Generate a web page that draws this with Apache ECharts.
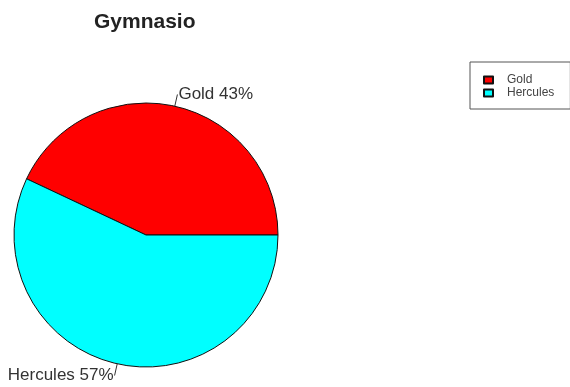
<!DOCTYPE html>
<html>
<head>
<meta charset="utf-8">
<script src="https://cdn.jsdelivr.net/npm/echarts@6/dist/echarts.min.js"></script>
<style>
  html, body { margin: 0; padding: 0; background: #fff; }
  #chart { width: 570px; height: 387px; }
</style>
</head>
<body>
<div id="chart"></div>
<script>
// Gym membership split
const chartTitle = 'Gymnasio';
const categories = ['Gold', 'Hercules'];
const shares = [43, 57];           // percent
const sliceColors = ['#ff0000', '#00ffff'];

const pieData = categories.map((name, i) => ({
  name: name,
  value: shares[i],
  itemStyle: { color: sliceColors[i] }
}));

const chart = echarts.init(document.getElementById('chart'), null, { renderer: 'canvas' });
chart.setOption({
  backgroundColor: '#ffffff',
  animation: false,
  title: {
    text: chartTitle,
    left: 94,
    top: 12,
    padding: 0,
    textStyle: {
      fontFamily: 'Liberation Sans, Arial, sans-serif',
      fontWeight: 'bold',
      fontSize: 21,
      color: '#222'
    }
  },
  legend: {
    orient: 'vertical',
    left: 470,
    top: 62,
    padding: [12, 16, 10, 13],
    borderColor: '#555',
    borderWidth: 1,
    itemWidth: 9,
    itemHeight: 7,
    itemGap: 1,
    icon: 'rect',
    data: categories,
    textStyle: {
      fontFamily: 'Liberation Sans, Arial, sans-serif',
      fontSize: 12,
      lineHeight: 12,
      color: '#444',
      padding: [0, 0, 0, 9]
    }
  },
  series: [{
    type: 'pie',
    center: [146, 235],
    radius: 132,
    startAngle: 0,
    clockwise: false,
    avoidLabelOverlap: false,
    data: pieData,
    itemStyle: { borderColor: '#111', borderWidth: 1 },
    emphasis: { disabled: true },
    label: {
      show: true,
      position: 'outside',
      formatter: '{b} {c}%',
      fontFamily: 'Liberation Sans, Arial, sans-serif',
      fontSize: 17,
      color: '#333',
      distanceToLabelLine: 1
    },
    labelLine: {
      show: true,
      length: 12,
      length2: 0,
      lineStyle: { color: '#333', width: 1 }
    }
  }]
});
</script>
</body>
</html>
